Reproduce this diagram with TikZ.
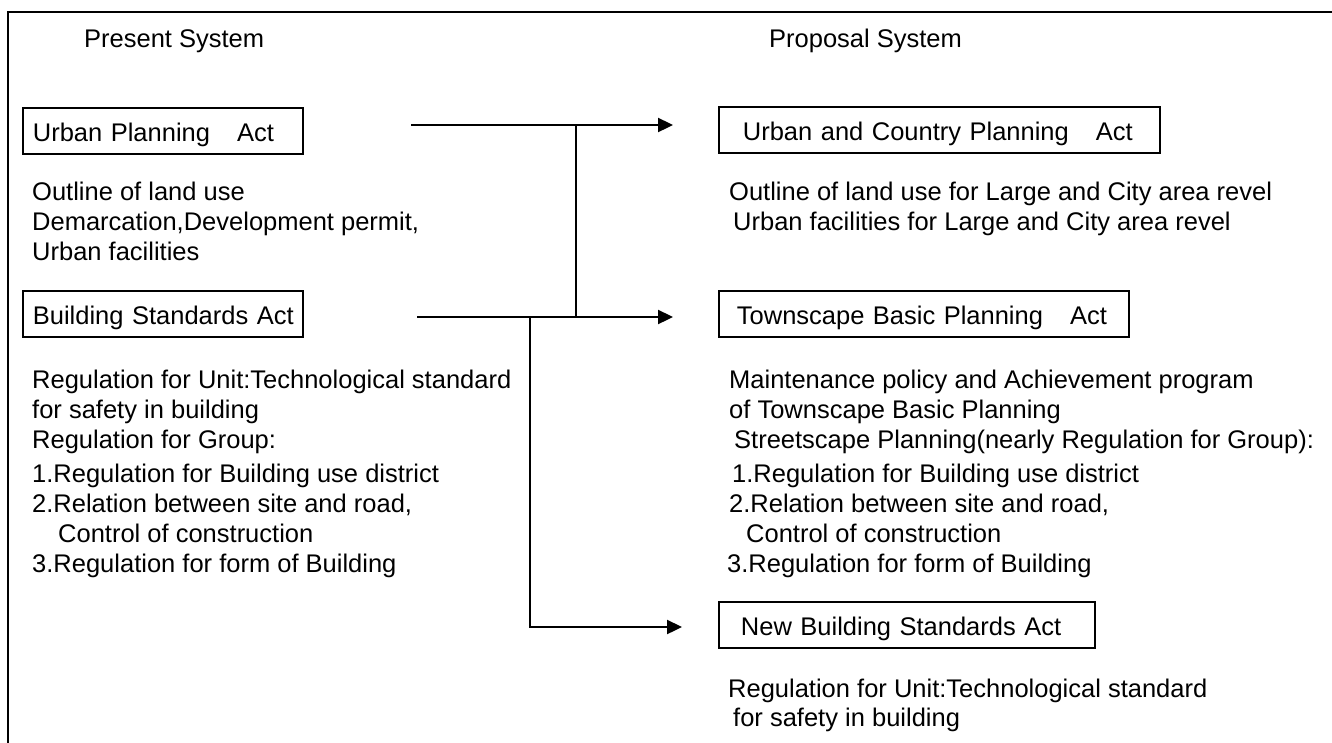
\documentclass[tikz,border=0pt]{standalone}
\usepackage{fontspec}
\setmainfont{Liberation Sans}
\usetikzlibrary{arrows.meta}
\begin{document}
\begin{tikzpicture}[x=1pt,y=-1pt,
  every node/.style={font=\fontsize{25.5}{30}\selectfont},
  txt/.style={anchor=base west, inner sep=0pt},
  actbox/.style={draw, line width=1.8pt, anchor=north west, minimum height=46pt,
    text height=23pt, text depth=1pt, align=left, inner xsep=0pt, inner ysep=0pt},
  frame/.style={line width=2pt},
  link/.style={line width=2.3pt},
  arrowlink/.style={link, -{Triangle[length=15pt,width=14pt]}}
]
\useasboundingbox (0,0) rectangle (1332,742);

% outer frame (top and left edges)
\draw[frame] (1340,12) -- (8,12) -- (8,750);

% column headings
\node[txt] (hpres) at (84,47) {Present System};
\node[txt] (hprop) at (769,47) {Proposal System};

% present system
\node[actbox, text width=280pt] (upa) at (22,107) {\hspace*{10pt}Urban Planning\hspace{27pt}Act};
\node[txt] (upa1) at (32,200) {Outline of land use};
\node[txt] (upa2) at (32,230) {Demarcation,Development permit,};
\node[txt] (upa3) at (32,260) {Urban facilities};

\node[actbox, text width=280pt] (bsa) at (22,290) {\hspace*{10pt}Building Standards Act};
\node[txt] (bsa1) at (32,388) {Regulation for Unit:Technological standard};
\node[txt] (bsa2) at (32,418) {for safety in building};
\node[txt] (bsa3) at (32,448) {Regulation for Group:};
\node[txt] (bsa4) at (32,482) {1.Regulation for Building use district};
\node[txt] (bsa5) at (32,512) {2.Relation between site and road,};
\node[txt] (bsa6) at (58,542) {Control of construction};
\node[txt] (bsa7) at (32,572) {3.Regulation for form of Building};

% proposal system
\node[actbox, text width=441pt] (ucp) at (718,106) {\hspace*{24pt}Urban and Country Planning\hspace{27pt}Act};
\node[txt] (ucp1) at (729,200) {Outline of land use for Large and City area revel};
\node[txt] (ucp2) at (733,230) {Urban facilities for Large and City area revel};

\node[actbox, text width=410pt] (tbp) at (718,290) {\hspace*{18pt}Townscape Basic Planning\hspace{27pt}Act};
\node[txt] (tbp1) at (729,388) {Maintenance policy and Achievement program};
\node[txt] (tbp2) at (729,418) {of Townscape Basic Planning};
\node[txt] (tbp3) at (734,448) {Streetscape Planning(nearly Regulation for Group):};
\node[txt] (tbp4) at (732,482) {1.Regulation for Building use district};
\node[txt] (tbp5) at (729,512) {2.Relation between site and road,};
\node[txt] (tbp6) at (746,542) {Control of construction};
\node[txt] (tbp7) at (727,572) {3.Regulation for form of Building};

\node[actbox, text width=376pt] (nbs) at (718,601) {\hspace*{22pt}New Building Standards Act};
\node[txt] (nbs1) at (728,697) {Regulation for Unit:Technological standard};
\node[txt] (nbs2) at (733,726) {for safety in building};

% connector end points
\coordinate (a1s) at (411,125);
\coordinate (a1e) at (673,125);
\coordinate (j1)  at (576,125);
\coordinate (a2s) at (417,317);
\coordinate (a2e) at (673,317);
\coordinate (j2)  at (576,317);
\coordinate (j3)  at (530,317);
\coordinate (a3e) at (682,627);

% connectors
\draw[arrowlink] (a1s) -- (a1e);
\draw[link] (j1) -- (j2);
\draw[arrowlink] (a2s) -- (a2e);
\draw[arrowlink] (j3) |- (a3e);
\end{tikzpicture}
\end{document}
